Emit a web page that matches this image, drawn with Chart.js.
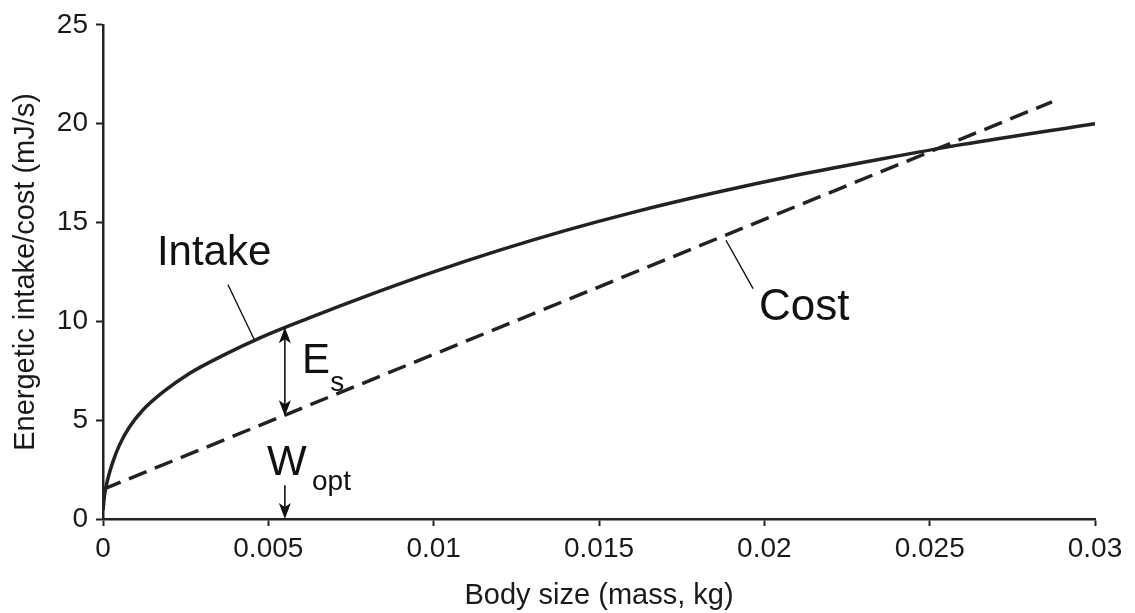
<!DOCTYPE html>
<html lang="en">
<head>
  <meta charset="UTF-8" />
  <title>Energetic intake and cost vs body size</title>
  <script src="https://cdn.jsdelivr.net/npm/chart.js"></script>
  <style>
    body {
      margin: 0;
      background: #ffffff;
    }
    .wrap {
      width: 1135px;
      height: 613px;
    }
  </style>
</head>
<body>

<div class="wrap"><canvas id="sizeChart"></canvas></div>

<script>
  // Intake curve: body mass (kg) against energetic intake (mJ/s)
  const intakeMass = [0, 0.00005, 0.00015, 0.0003, 0.0005, 0.0008, 0.0012, 0.0018, 0.0026, 0.0036, 0.0048, 0.0062, 0.008, 0.01, 0.012, 0.014, 0.016, 0.0185, 0.021, 0.0235, 0.026, 0.03];
  const intakeRate = [0.45, 1.25, 2.05, 2.9, 3.75, 4.65, 5.5, 6.4, 7.35, 8.25, 9.2, 10.15, 11.3, 12.5, 13.6, 14.6, 15.5, 16.5, 17.4, 18.2, 18.95, 20.0];

  // Cost is a straight line, so its two end points are enough
  const costMass = [0, 0.0287];
  const costRate = [1.5, 21.1];

  const xTicks = [0, 0.005, 0.01, 0.015, 0.02, 0.025, 0.03];
  const yTicks = [0, 5, 10, 15, 20, 25];

  // Optimum size and the surplus (intake minus cost) there
  const wOpt = 0.0055;
  const esTop = 9.7;
  const esBottom = 5.2;

  const FONT = "'Liberation Sans', Arial, sans-serif";
  const INK = '#222';

  const toPoints = (xs, ys) => xs.map((v, i) => ({ x: v, y: ys[i] }));

  // filled arrow head with a small notch, tip at (tx, ty), pointing along (dx, dy)
  function arrowHead(ctx, tx, ty, dx, dy) {
    const len = 16, half = 6;
    const bx = tx - dx * len, by = ty - dy * len;
    const nx = -dy, ny = dx;
    ctx.beginPath();
    ctx.moveTo(tx, ty);
    ctx.lineTo(bx + nx * half, by + ny * half);
    ctx.lineTo(tx - dx * len * 0.75, ty - dy * len * 0.75);
    ctx.lineTo(bx - nx * half, by - ny * half);
    ctx.closePath();
    ctx.fill();
  }

  const labelsPlugin = {
    id: 'labelsPlugin',
    afterDatasetsDraw(chart) {
      const { ctx, scales: { x, y } } = chart;
      const px = v => x.getPixelForValue(v);
      const py = v => y.getPixelForValue(v);

      ctx.save();
      ctx.fillStyle = '#111';
      ctx.strokeStyle = '#111';
      ctx.textAlign = 'left';
      ctx.textBaseline = 'alphabetic';

      ctx.font = '42px ' + FONT;
      ctx.fillText('Intake', px(0.00163), py(12.85));
      ctx.fillText('E', px(0.00602), py(7.38));
      ctx.fillText('W', px(0.00496), py(2.21));
      ctx.font = '44px ' + FONT;
      ctx.fillText('Cost', px(0.01984), py(10.09));
      ctx.font = '28px ' + FONT;
      ctx.fillText('s', px(0.00687), py(6.48));
      ctx.fillText('opt', px(0.00632), py(1.46));

      // thin leader lines from the names to their curves
      ctx.lineWidth = 1.4;
      ctx.beginPath();
      ctx.moveTo(px(0.00378), py(11.85));
      ctx.lineTo(px(0.00457), py(9.09));
      ctx.moveTo(px(0.01884), py(14.1));
      ctx.lineTo(px(0.01966), py(11.65));
      ctx.stroke();

      // double arrow for the surplus E_s
      const ax = px(wOpt);
      const top = py(esTop), bottom = py(esBottom);
      ctx.lineWidth = 1.6;
      ctx.beginPath();
      ctx.moveTo(ax, top + 8);
      ctx.lineTo(ax, bottom - 8);
      ctx.stroke();
      arrowHead(ctx, ax, top, 0, -1);
      arrowHead(ctx, ax, bottom, 0, 1);

      // small arrow marking W_opt on the axis
      const zero = py(0);
      ctx.beginPath();
      ctx.moveTo(ax, py(1.71));
      ctx.lineTo(ax, zero - 8);
      ctx.stroke();
      arrowHead(ctx, ax, zero, 0, 1);

      ctx.restore();
    }
  };

  const ctx = document.getElementById('sizeChart').getContext('2d');
  new Chart(ctx, {
    type: 'line',
    data: {
      datasets: [{
        label: 'Intake',
        data: toPoints(intakeMass, intakeRate),
        borderColor: INK,
        borderWidth: 3.5,
        pointRadius: 0,
        cubicInterpolationMode: 'monotone',
        fill: false
      }, {
        label: 'Cost',
        data: toPoints(costMass, costRate),
        borderColor: INK,
        borderWidth: 3.5,
        borderDash: [19, 9],
        pointRadius: 0,
        fill: false
      }]
    },
    options: {
      responsive: true,
      maintainAspectRatio: false,
      animation: false,
      events: [],
      layout: {
        autoPadding: false,
        padding: { top: 21, right: 40, left: 0, bottom: 0 }
      },
      plugins: {
        legend: { display: false },
        tooltip: { enabled: false }
      },
      scales: {
        x: {
          type: 'linear',
          min: 0,
          max: 0.03,
          afterBuildTicks: s => { s.ticks = xTicks.map(v => ({ value: v })); },
          afterFit: s => { s.height = 94; },
          grid: { drawOnChartArea: false, tickLength: 7, tickWidth: 2, color: INK },
          border: { display: true, width: 2.5, color: INK },
          ticks: {
            padding: 6,
            maxRotation: 0,
            color: '#1a1a1a',
            font: { family: FONT, size: 28 },
            callback: v => String(v)
          },
          title: {
            display: true,
            text: 'Body size (mass, kg)',
            color: '#1a1a1a',
            font: { family: FONT, size: 29 },
            padding: { top: 0, bottom: 0 }
          }
        },
        y: {
          type: 'linear',
          min: 0,
          max: 25,
          afterBuildTicks: s => { s.ticks = yTicks.map(v => ({ value: v })); },
          afterFit: s => { s.width = 103; },
          grid: { drawOnChartArea: false, tickLength: 7, tickWidth: 2, color: INK },
          border: { display: true, width: 2.5, color: INK },
          ticks: {
            padding: 8,
            color: '#1a1a1a',
            font: { family: FONT, size: 28 },
            callback: v => String(v)
          },
          title: {
            display: true,
            text: 'Energetic intake/cost (mJ/s)',
            color: '#1a1a1a',
            font: { family: FONT, size: 29 },
            padding: { top: 9, bottom: 0 }
          }
        }
      }
    },
    plugins: [labelsPlugin]
  });
</script>

</body>
</html>
